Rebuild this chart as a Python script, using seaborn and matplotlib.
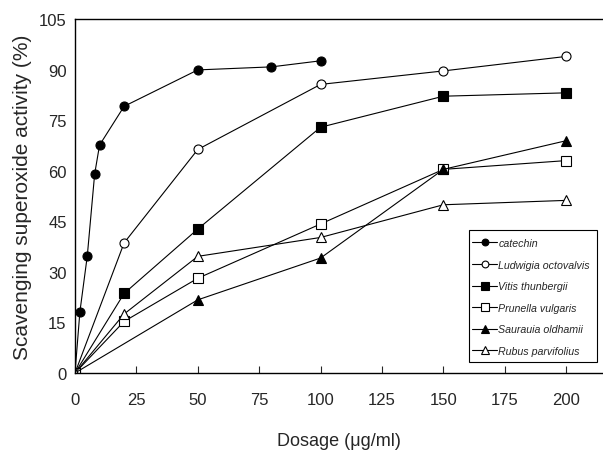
import pandas as pd
import matplotlib
matplotlib.use("Agg")
import matplotlib.pyplot as plt
from matplotlib.patches import Rectangle
import seaborn as sns

# --- data ---
catechin_x = [0, 2, 5, 8, 10, 20, 50, 80, 100]
catechin_y = [0, 18.2, 34.7, 59.0, 67.6, 79.1, 89.9, 90.8, 92.6]

ludwigia_x = [0, 20, 50, 100, 150, 200]
ludwigia_y = [0, 38.6, 66.3, 85.6, 89.6, 93.9]

vitis_x = [0, 20, 50, 100, 150, 200]
vitis_y = [0, 23.6, 42.7, 72.9, 82.1, 83.1]

prunella_x = [0, 20, 50, 100, 150, 200]
prunella_y = [0, 15.3, 28.1, 44.2, 60.4, 63.0]

saurauia_x = [0, 50, 100, 150, 200]
saurauia_y = [0, 21.7, 34.1, 60.4, 68.9]

rubus_x = [0, 20, 50, 100, 150, 200]
rubus_y = [0, 17.5, 34.6, 40.2, 49.9, 51.2]

series_names = ["catechin", "Ludwigia octovalvis", "Vitis thunbergii",
                "Prunella vulgaris", "Saurauia oldhamii", "Rubus parvifolius"]
series_x = [catechin_x, ludwigia_x, vitis_x, prunella_x, saurauia_x, rubus_x]
series_y = [catechin_y, ludwigia_y, vitis_y, prunella_y, saurauia_y, rubus_y]
markers = ["o", "o", "s", "s", "^", "^"]
filled = [True, False, True, False, True, False]

x_ticks = list(range(0, 201, 25))
y_ticks = list(range(0, 106, 15))

sns.set_style("ticks")
plt.rcParams["font.family"] = ["Liberation Sans", "DejaVu Sans"]

fig = plt.figure(figsize=(6.03, 4.52), dpi=100)
ax = fig.add_axes([75 / 603, 78 / 452, 528 / 603, 354 / 452])

handles = []
for name, xs, ys, m, f in zip(series_names, series_x, series_y, markers, filled):
    df = pd.DataFrame({"Dosage": xs, "Activity": ys})
    sns.lineplot(data=df, x="Dosage", y="Activity", ax=ax, color="black",
                 linewidth=0.8, marker=m, markersize=7 if m != "o" else 6.5,
                 markerfacecolor="black" if f else "white",
                 markeredgecolor="black", markeredgewidth=0.8)
    handles.append(ax.lines[-1])

ax.set_xlim(0, 215)
ax.set_ylim(0, 105)
ax.set_xticks(x_ticks)
ax.set_yticks(y_ticks)
ax.tick_params(axis="x", direction="in", length=5, width=0.8, pad=14, labelsize=12)
ax.tick_params(axis="y", length=0, pad=6, labelsize=12)
for s in ["left", "bottom", "top"]:
    ax.spines[s].set_linewidth(1.0)
    ax.spines[s].set_color("black")
ax.spines["right"].set_visible(False)

ax.set_xlabel("Dosage (\u03bcg/ml)", fontsize=13, labelpad=18)
ax.set_ylabel("Scavenging superoxide activity (%)", fontsize=15, labelpad=5)

# legend box: frame drawn separately so it can be taller than the entries
ax.add_patch(Rectangle((469 / 603, 1 - 363 / 452), 128 / 603, 132 / 452,
                       transform=fig.transFigure, facecolor="white",
                       edgecolor="black", linewidth=0.8, zorder=4, clip_on=False))
leg = ax.legend(handles, series_names, loc="upper left",
                bbox_to_anchor=(469 / 603, 1 - 236 / 452),
                bbox_transform=fig.transFigure,
                prop={"style": "italic", "size": 7.7},
                frameon=False, handlelength=2.3, handletextpad=0.15,
                labelspacing=1.08, borderpad=0.3, borderaxespad=0, numpoints=1,
                markerscale=0.75)
leg.set_zorder(5)

fig.savefig("out.png", dpi=100)
